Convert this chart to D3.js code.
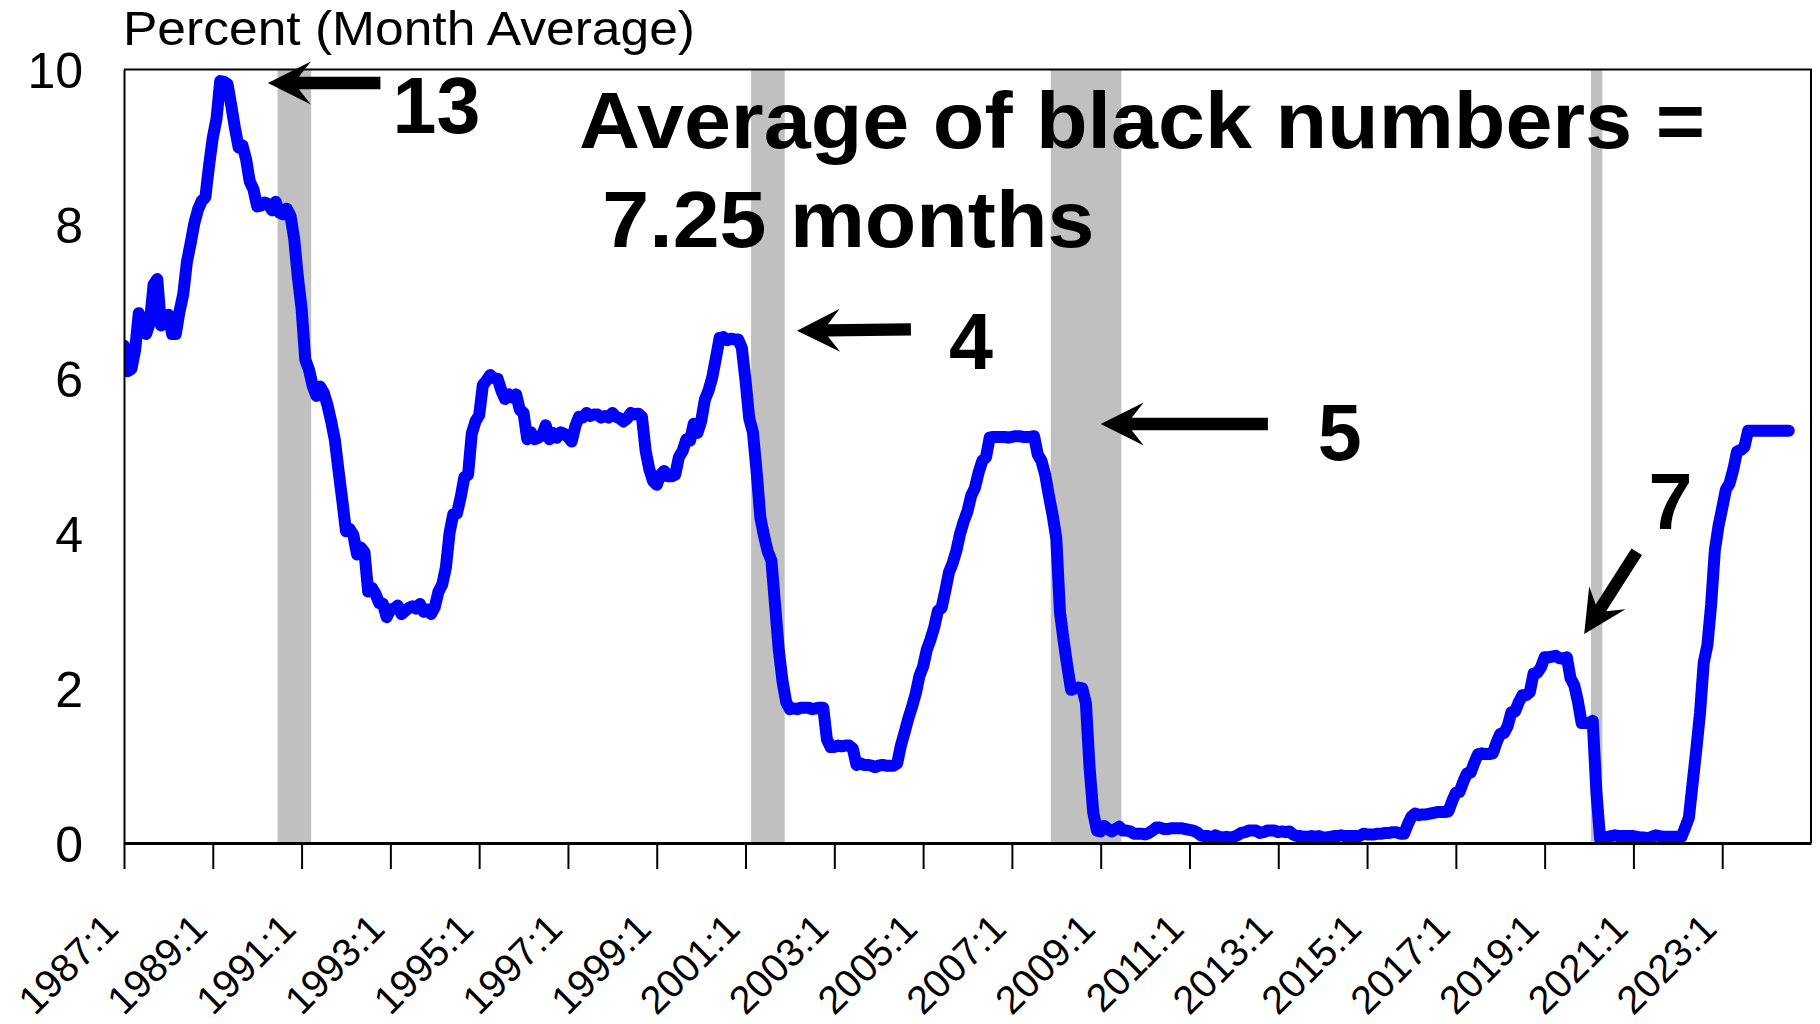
<!DOCTYPE html>
<html>
<head>
<meta charset="utf-8">
<script src="https://cdn.jsdelivr.net/npm/d3@7"></script>
<style>
  html, body { margin: 0; padding: 0; background: #fff; }
  svg { display: block; }
  text { font-family: "Liberation Sans", Arial, sans-serif; fill: #000; }
</style>
</head>
<body>
<svg id="chart" width="1820" height="1024"></svg>
<script>
// ---------------- DATA ----------------
const firstMonth = "1987:1";
// Monthly average federal funds rate, percent (1987:1 .. 2024:7)
const rates1987_1996 = [
  6.43, 6.10, 6.13, 6.37, 6.85, 6.73, 6.58, 6.73, 7.22, 7.29, 6.69, 6.77,
  6.83, 6.58, 6.58, 6.87, 7.09, 7.51, 7.75, 8.01, 8.19, 8.30, 8.35, 8.76,
  9.12, 9.36, 9.85, 9.84, 9.81, 9.53, 9.24, 8.99, 9.02, 8.84, 8.55, 8.45,
  8.23, 8.24, 8.28, 8.26, 8.18, 8.29, 8.15, 8.13, 8.20, 8.11, 7.81, 7.31,
  6.91, 6.25, 6.12, 5.91, 5.78, 5.90, 5.82, 5.66, 5.45, 5.21, 4.81, 4.43,
  4.03, 4.06, 3.98, 3.73, 3.82, 3.76, 3.25, 3.30, 3.22, 3.10, 3.09, 2.92,
  3.02, 3.03, 3.07, 2.96, 3.00, 3.04, 3.06, 3.03, 3.09, 2.99, 3.02, 2.96,
  3.05, 3.25, 3.34, 3.56, 4.01, 4.25, 4.26, 4.47, 4.73, 4.76, 5.29, 5.45,
  5.53, 5.92, 5.98, 6.05, 6.01, 6.00, 5.85, 5.74, 5.80, 5.76, 5.80, 5.60,
  5.56, 5.22, 5.31, 5.22, 5.24, 5.27, 5.40, 5.22, 5.30, 5.24, 5.31, 5.29
];
const rates1997_2006 = [
  5.25, 5.19, 5.39, 5.51, 5.50, 5.56, 5.52, 5.54, 5.54, 5.50, 5.52, 5.50,
  5.56, 5.51, 5.49, 5.45, 5.49, 5.56, 5.54, 5.55, 5.51, 5.07, 4.83, 4.68,
  4.63, 4.76, 4.81, 4.74, 4.74, 4.76, 4.99, 5.07, 5.22, 5.20, 5.42, 5.30,
  5.45, 5.73, 5.85, 6.02, 6.27, 6.53, 6.54, 6.50, 6.52, 6.51, 6.51, 6.40,
  5.98, 5.49, 5.31, 4.80, 4.21, 3.97, 3.77, 3.65, 3.07, 2.49, 2.09, 1.82,
  1.73, 1.74, 1.73, 1.75, 1.75, 1.75, 1.73, 1.74, 1.75, 1.75, 1.34, 1.24,
  1.24, 1.26, 1.25, 1.26, 1.26, 1.22, 1.01, 1.03, 1.01, 1.01, 1.00, 0.98,
  1.00, 1.01, 1.00, 1.00, 1.00, 1.03, 1.26, 1.43, 1.61, 1.76, 1.93, 2.16,
  2.28, 2.50, 2.63, 2.79, 3.00, 3.04, 3.26, 3.50, 3.62, 3.78, 4.00, 4.16,
  4.29, 4.49, 4.59, 4.79, 4.94, 4.99, 5.24, 5.25, 5.25, 5.25, 5.25, 5.24
];
const rates2007_2016 = [
  5.25, 5.26, 5.26, 5.25, 5.25, 5.25, 5.26, 5.02, 4.94, 4.76, 4.49, 4.24,
  3.94, 2.98, 2.61, 2.28, 1.98, 2.00, 2.01, 2.00, 1.81, 0.97, 0.39, 0.16,
  0.15, 0.22, 0.18, 0.15, 0.18, 0.21, 0.16, 0.16, 0.15, 0.12, 0.12, 0.12,
  0.11, 0.13, 0.16, 0.20, 0.20, 0.18, 0.18, 0.19, 0.19, 0.19, 0.19, 0.18,
  0.17, 0.16, 0.14, 0.10, 0.09, 0.09, 0.07, 0.10, 0.08, 0.07, 0.08, 0.07,
  0.08, 0.10, 0.13, 0.14, 0.16, 0.16, 0.16, 0.13, 0.14, 0.16, 0.16, 0.16,
  0.14, 0.15, 0.14, 0.15, 0.11, 0.09, 0.09, 0.08, 0.08, 0.09, 0.08, 0.09,
  0.07, 0.07, 0.08, 0.09, 0.09, 0.10, 0.09, 0.09, 0.09, 0.09, 0.09, 0.12,
  0.11, 0.11, 0.11, 0.12, 0.12, 0.13, 0.13, 0.14, 0.14, 0.12, 0.12, 0.24,
  0.34, 0.38, 0.36, 0.37, 0.37, 0.38, 0.39, 0.40, 0.40, 0.40, 0.41, 0.54
];
const rates2017_2024 = [
  0.65, 0.66, 0.79, 0.90, 0.91, 1.04, 1.15, 1.16, 1.15, 1.15, 1.16, 1.30,
  1.41, 1.42, 1.51, 1.69, 1.70, 1.82, 1.91, 1.91, 1.95, 2.19, 2.20, 2.27,
  2.40, 2.40, 2.41, 2.42, 2.39, 2.38, 2.40, 2.13, 2.04, 1.83, 1.55, 1.55,
  1.55, 1.58, 0.65, 0.05, 0.05, 0.08, 0.09, 0.10, 0.09, 0.09, 0.09, 0.09,
  0.09, 0.08, 0.07, 0.07, 0.06, 0.08, 0.10, 0.09, 0.08, 0.08, 0.08, 0.08,
  0.08, 0.08, 0.20, 0.33, 0.77, 1.21, 1.68, 2.33, 2.56, 3.08, 3.78, 4.10,
  4.33, 4.57, 4.65, 4.83, 5.06, 5.08, 5.12, 5.33, 5.33, 5.33, 5.33, 5.33,
  5.33, 5.33, 5.33, 5.33, 5.33, 5.33, 5.33
];
const rates = [].concat(rates1987_1996, rates1997_2006, rates2007_2016, rates2017_2024);

const xTickLabels = ["1987:1","1989:1","1991:1","1993:1","1995:1","1997:1","1999:1",
  "2001:1","2003:1","2005:1","2007:1","2009:1","2011:1","2013:1","2015:1",
  "2017:1","2019:1","2021:1","2023:1"];
const yTicks = [0, 2, 4, 6, 8, 10];

const recessionStarts = ["1990:7", "2001:3", "2007:12", "2020:2"];
const recessionEnds   = ["1991:3", "2001:11", "2009:6", "2020:4"];

const yAxisTitle = "Percent (Month Average)";
const noteLines = ["Average of black numbers =", "7.25 months"];
const calloutLabels = ["13", "4", "5", "7"];

// ---------------- LAYOUT ----------------
const plot = { left: 124, right: 1811, top: 69.5, bottom: 843 };
const FONT = '"Liberation Sans", Arial, sans-serif';

function monthIndex(label) {
  const [yy, mm] = label.split(":").map(Number);
  const [y0, m0] = firstMonth.split(":").map(Number);
  return (yy - y0) * 12 + (mm - m0);
}

const svg = d3.select("#chart");
const x = d3.scaleLinear().domain([0, 456]).range([plot.left, plot.right]);
const y = d3.scaleLinear().domain([0, 10]).range([plot.bottom, plot.top]);

svg.append("defs").append("clipPath").attr("id", "plotClip")
  .append("rect")
  .attr("x", plot.left).attr("y", plot.top - 20)
  .attr("width", plot.right - plot.left).attr("height", plot.bottom - plot.top + 20);

// Recession bands
svg.append("g").selectAll("rect")
  .data(recessionStarts.map((s, i) => [monthIndex(s), monthIndex(recessionEnds[i])]))
  .join("rect")
  .attr("x", d => x(d[0] - 0.5))
  .attr("width", d => x(d[1] + 0.6) - x(d[0] - 0.5))
  .attr("y", plot.top)
  .attr("height", plot.bottom - plot.top)
  .attr("fill", "#C0C0C0");

// Line
const line = d3.line().x((d, i) => x(i)).y(d => y(d));
svg.append("path")
  .datum(rates)
  .attr("clip-path", "url(#plotClip)")
  .attr("d", line)
  .attr("fill", "none")
  .attr("stroke", "#0000FF")
  .attr("stroke-width", 12)
  .attr("stroke-linejoin", "round")
  .attr("stroke-linecap", "round");

// Frame (top and right)
svg.append("path")
  .attr("d", `M${plot.left},${plot.top}H${plot.right}V${plot.bottom}`)
  .attr("fill", "none").attr("stroke", "#000").attr("stroke-width", 2);

// X axis
const xAxis = d3.axisBottom(x)
  .tickValues(xTickLabels.map(monthIndex))
  .tickFormat((d, i) => xTickLabels[i])
  .tickSize(26).tickSizeOuter(0);
const gx = svg.append("g").attr("transform", `translate(0,${plot.bottom})`).call(xAxis);
gx.select(".domain").attr("stroke", "#000").attr("stroke-width", 3);
gx.selectAll(".tick line").attr("stroke", "#000").attr("stroke-width", 2);
gx.selectAll(".tick text")
  .attr("y", null).attr("dy", null).attr("x", null)
  .attr("text-anchor", "end")
  .attr("transform", "translate(-4,88) rotate(-45)")
  .style("font-family", FONT).style("font-size", "39.5px").attr("fill", "#000");

// Y axis
const yAxis = d3.axisLeft(y).tickValues(yTicks).tickFormat(d3.format("d"))
  .tickSize(0).tickPadding(41);
const gy = svg.append("g").attr("transform", `translate(${plot.left},0)`).call(yAxis);
gy.select(".domain").attr("stroke", "#000").attr("stroke-width", 2);
gy.selectAll(".tick text")
  .attr("dy", "0.36em")
  .style("font-family", FONT).style("font-size", "50px").attr("fill", "#000");

// Y axis title
svg.append("text")
  .attr("x", 123).attr("y", 45)
  .attr("textLength", 572).attr("lengthAdjust", "spacingAndGlyphs")
  .style("font-size", "49px")
  .text(yAxisTitle);

// Note text (positioned in data units)
svg.append("text")
  .attr("x", x(123.0)).attr("y", y(8.985))
  .attr("textLength", 1126).attr("lengthAdjust", "spacingAndGlyphs")
  .style("font-size", "79px").style("font-weight", "bold")
  .text(noteLines[0]);
svg.append("text")
  .attr("x", x(129.3)).attr("y", y(7.705))
  .attr("textLength", 492).attr("lengthAdjust", "spacingAndGlyphs")
  .style("font-size", "79px").style("font-weight", "bold")
  .text(noteLines[1]);

// Callouts: arrow tip / tail and label position in data units (month index, percent)
const callouts = [
  { label: calloutLabels[0], tip: [38.9, 9.826], tail: [69.3, 9.826], text: [72.6, 9.18] },
  { label: calloutLabels[1], tip: [181.9, 6.623], tail: [212.7, 6.64], text: [223.0, 6.128] },
  { label: calloutLabels[2], tip: [264.0, 5.417], tail: [309.2, 5.417], text: [322.7, 4.951] },
  { label: calloutLabels[3], tip: [394.7, 2.702], tail: [408.9, 3.766], text: [412.1, 4.06] }
];

function arrowPath(tx, ty, sx, sy) {
  const dx = tx - sx, dy = ty - sy;
  const L = Math.hypot(dx, dy);
  const ux = dx / L, uy = dy / L;      // direction toward tip
  const px = -uy, py = ux;             // perpendicular
  const headLen = 43, headHalf = 21.5, notch = 31, shaftHalf = 6.2;
  const P = (a, b) => [tx - ux * a + px * b, ty - uy * a + py * b];
  const pts = [
    P(0, 0), P(headLen, headHalf), P(notch, shaftHalf), P(L, shaftHalf),
    P(L, -shaftHalf), P(notch, -shaftHalf), P(headLen, -headHalf)
  ];
  return "M" + pts.map(p => p[0].toFixed(1) + "," + p[1].toFixed(1)).join("L") + "Z";
}

const gc = svg.append("g");
gc.selectAll("path").data(callouts).join("path")
  .attr("d", d => arrowPath(x(d.tip[0]), y(d.tip[1]), x(d.tail[0]), y(d.tail[1])))
  .attr("fill", "#000");
gc.selectAll("text").data(callouts).join("text")
  .attr("x", d => x(d.text[0])).attr("y", d => y(d.text[1]))
  .style("font-size", "79px").style("font-weight", "bold")
  .text(d => d.label);
</script>
</body>
</html>
